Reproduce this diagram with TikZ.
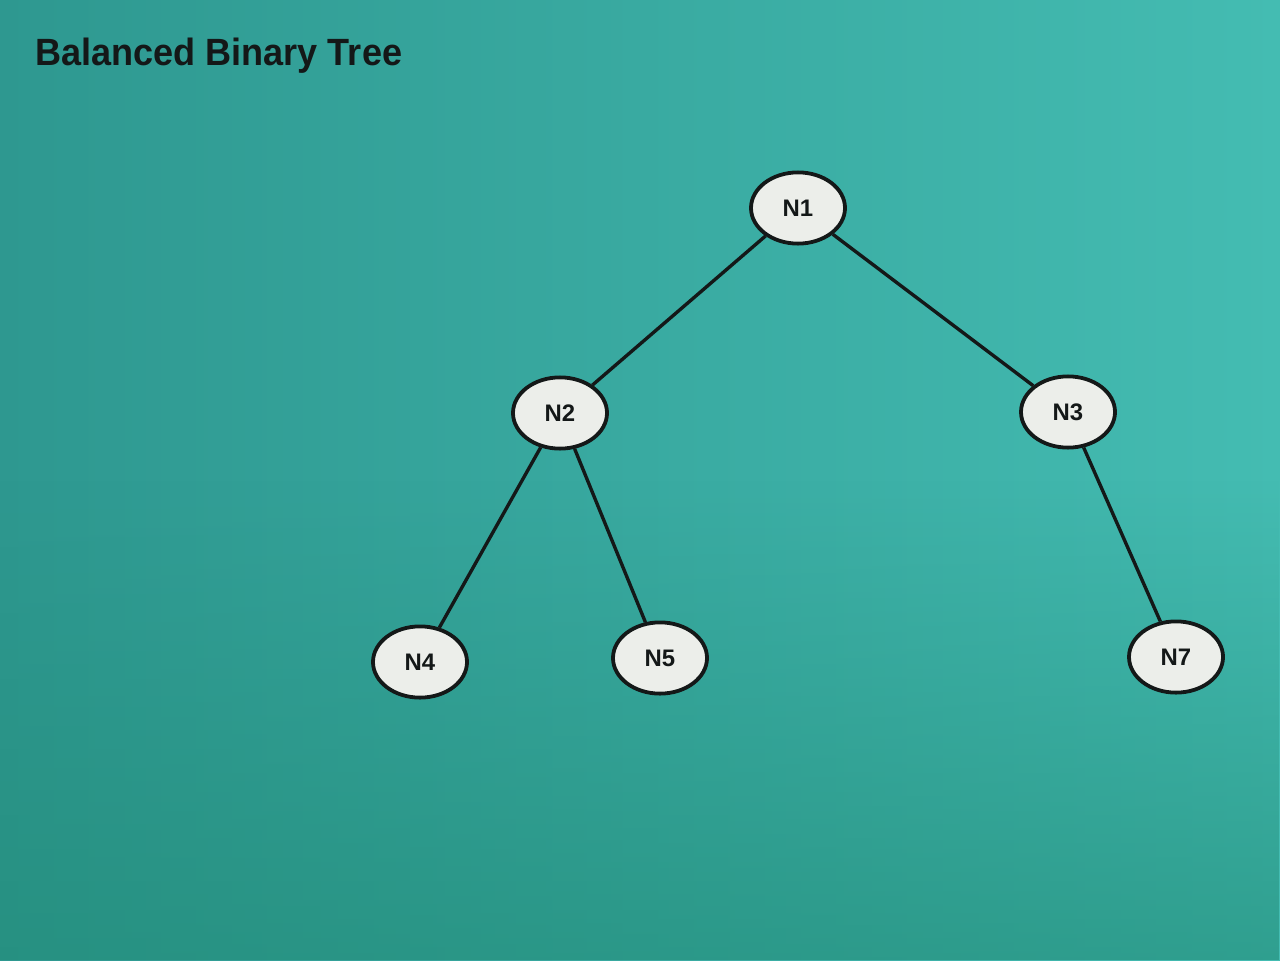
\documentclass[tikz,border=0pt]{standalone}
\usepackage{fontspec}
\setmainfont{Liberation Sans}
\usetikzlibrary{shapes.geometric,fadings}

\definecolor{tealleft}{RGB}{46,152,144}
\definecolor{tealright}{RGB}{68,188,178}
\definecolor{tealbottom}{RGB}{34,140,120}
\definecolor{nodefill}{RGB}{236,238,234}
\definecolor{inkline}{RGB}{20,24,24}

\begin{document}
\begin{tikzpicture}[x=0.025cm,y=-0.025cm,
  treenode/.style={ellipse,draw=inkline,line width=2.7pt,fill=nodefill,
    minimum width=2.35cm,minimum height=1.78cm,inner sep=0pt,
    font=\fontsize{17}{17}\selectfont\bfseries,text=inkline},
  branch/.style={draw=inkline,line width=2.4pt}]
\useasboundingbox (0,0) rectangle (1280,960);
\shade[left color=tealleft,right color=tealright] (0,0) rectangle (1280,960);
\fill[tealbottom,path fading=north,opacity=0.6] (0,480) rectangle (1280,960);

\node[anchor=west,font=\fontsize{27}{28}\selectfont\bfseries,text=inkline,inner sep=0pt,xscale=0.95] (title) at (35,56) {Balanced Binary Tree};

\node[treenode] (n1) at (798,208) {N1};
\node[treenode] (n2) at (560,413) {N2};
\node[treenode] (n3) at (1068,412) {N3};
\node[treenode] (n4) at (420,662) {N4};
\node[treenode] (n5) at (660,658) {N5};
\node[treenode] (n7) at (1176,657) {N7};

\path
(n1) edge[branch] (n2)
(n1) edge[branch] (n3)
(n2) edge[branch] (n4)
(n2) edge[branch] (n5)
(n3) edge[branch] (n7);
\end{tikzpicture}
\end{document}
